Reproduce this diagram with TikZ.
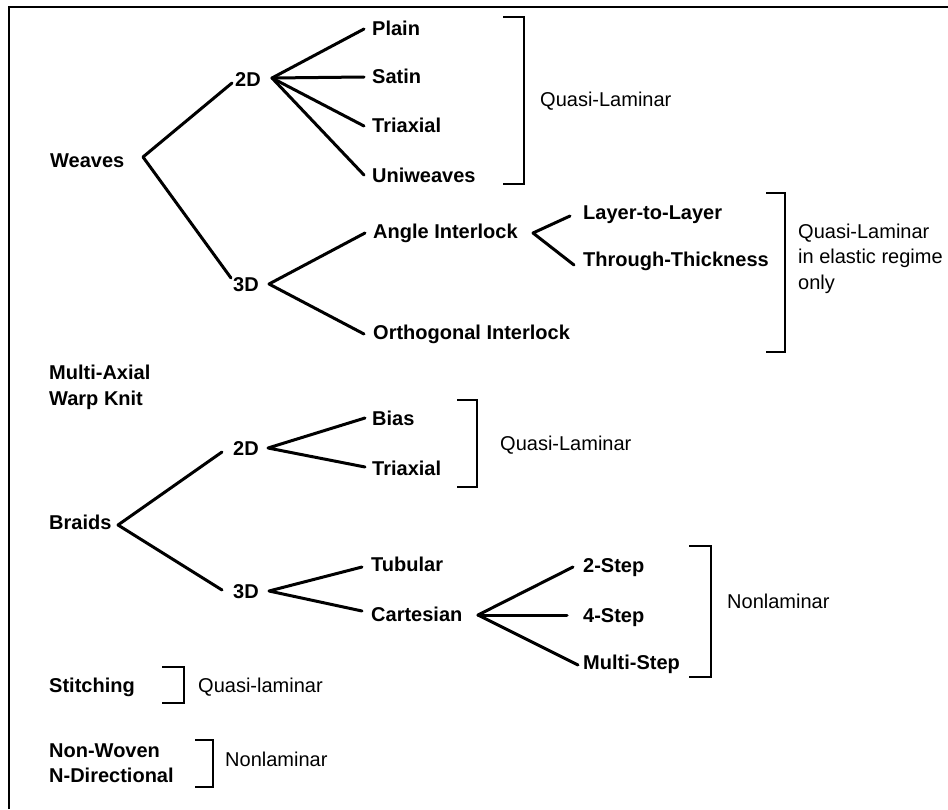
\documentclass[tikz,border=0pt]{standalone}
\usepackage{fontspec}
\setmainfont{Liberation Sans}
\begin{document}
\begin{tikzpicture}[x=1pt,y=-1pt,
  item/.style={font=\fontsize{20}{25.5}\selectfont\bfseries, inner sep=0pt, anchor=base west},
  note/.style={font=\fontsize{20}{25.5}\selectfont, inner sep=0pt, align=left, anchor=base west},
  branch/.style={line width=3pt, line cap=round, line join=round},
  brk/.style={line width=1.8pt},
  frame/.style={line width=2pt}]
\useasboundingbox (0,0) rectangle (948,809);
\draw[frame] (9,809) -- (9,7) -- (948,7);

% ---- Weaves
\node[item] (weaves) at (50,167) {Weaves};
\node[item] (w2d) at (235,86) {2D};
\node[item] (plain) at (372,35) {Plain};
\node[item] (satin) at (372,83) {Satin};
\node[item] (wtri) at (372,132) {Triaxial};
\node[item] (uni) at (372,182) {Uniweaves};
\node[item] (w3d) at (233,291) {3D};
\node[item] (angle) at (373,238) {Angle Interlock};
\node[item] (ortho) at (373,339) {Orthogonal Interlock};
\node[item] (layer) at (583,219) {Layer-to-Layer};
\node[item] (through) at (583,266) {Through-Thickness};

\coordinate (jw) at (143,157);
\coordinate (jw2) at (272,78);
\coordinate (jw3) at (269,284);
\coordinate (ja) at (533,233);

\draw[branch] ([xshift=-3pt,yshift=3pt]w2d.base west) -- (jw) -- ([xshift=-2pt,yshift=13pt]w3d.base west);
\draw[branch] (jw2) -- ([xshift=-8pt,yshift=6pt]plain.base west);
\draw[branch] (jw2) -- ([xshift=-8pt,yshift=6pt]satin.base west);
\draw[branch] (jw2) -- ([xshift=-8pt,yshift=6pt]wtri.base west);
\draw[branch] (jw2) -- ([xshift=-8pt,yshift=7pt]uni.base west);
\draw[branch] ([xshift=-8pt,yshift=5pt]angle.base west) -- (jw3) -- ([xshift=-9pt,yshift=5pt]ortho.base west);
\draw[branch] ([xshift=-13pt,yshift=3pt]layer.base west) -- (ja) -- ([xshift=-9pt,yshift=1pt]through.base west);

% ---- Multi-Axial
\node[item, align=left, anchor=north west] (mawk) at (49,365) {Multi-Axial\\Warp Knit};

% ---- Braids
\node[item] (braids) at (49,529) {Braids};
\node[item] (b2d) at (233,455) {2D};
\node[item] (bias) at (372,425) {Bias};
\node[item] (btri) at (372,475) {Triaxial};
\node[item] (b3d) at (233,598) {3D};
\node[item] (tub) at (371,571) {Tubular};
\node[item] (cart) at (371,621) {Cartesian};
\node[item] (s2) at (583,572) {2-Step};
\node[item] (s4) at (583,622) {4-Step};
\node[item] (sm) at (583,669) {Multi-Step};

\coordinate (jb) at (118,525);
\coordinate (jb2) at (268,448);
\coordinate (jb3) at (269,591);
\coordinate (jc) at (478,615);

\draw[branch] ([xshift=-11pt,yshift=3pt]b2d.base west) -- (jb) -- ([xshift=-11pt,yshift=8pt]b3d.base west);
\draw[branch] ([xshift=-7pt,yshift=7pt]bias.base west) -- (jb2) -- ([xshift=-7pt,yshift=8pt]btri.base west);
\draw[branch] ([xshift=-9pt,yshift=4pt]tub.base west) -- (jb3) -- ([xshift=-9pt,yshift=10pt]cart.base west);
\draw[branch] (jc) -- ([xshift=-10pt,yshift=5pt]s2.base west);
\draw[branch] (jc) -- ([xshift=-16pt,yshift=7pt]s4.base west);
\draw[branch] (jc) -- ([xshift=-5pt,yshift=4pt]sm.base west);

% ---- Stitching, Non-Woven
\node[item] (stitch) at (49,692) {Stitching};
\node[item, align=left, anchor=north west] (nonwoven) at (49,743.5) {Non-Woven\\N-Directional};

% ---- Brackets and notes
\draw[brk] (503,17) -- (524,17) -- (524,184) -- (503,184);
\node[note] (ql1) at (540,106) {Quasi-Laminar};

\draw[brk] (766,193) -- (785,193) -- (785,352) -- (766,352);
\node[note, anchor=north west] (ql2) at (798,223.5) {Quasi-Laminar\\in elastic regime\\only};

\draw[brk] (457,400) -- (477,400) -- (477,487) -- (457,487);
\node[note] (ql3) at (500,450) {Quasi-Laminar};

\draw[brk] (689,546) -- (711,546) -- (711,677) -- (689,677);
\node[note] (nl1) at (727,608) {Nonlaminar};

\draw[brk] (162,667) -- (184,667) -- (184,703) -- (162,703);
\node[note] (ql4) at (198,692) {Quasi-laminar};

\draw[brk] (195,740) -- (213,740) -- (213,787) -- (195,787);
\node[note] (nl2) at (225,766) {Nonlaminar};
\end{tikzpicture}
\end{document}
